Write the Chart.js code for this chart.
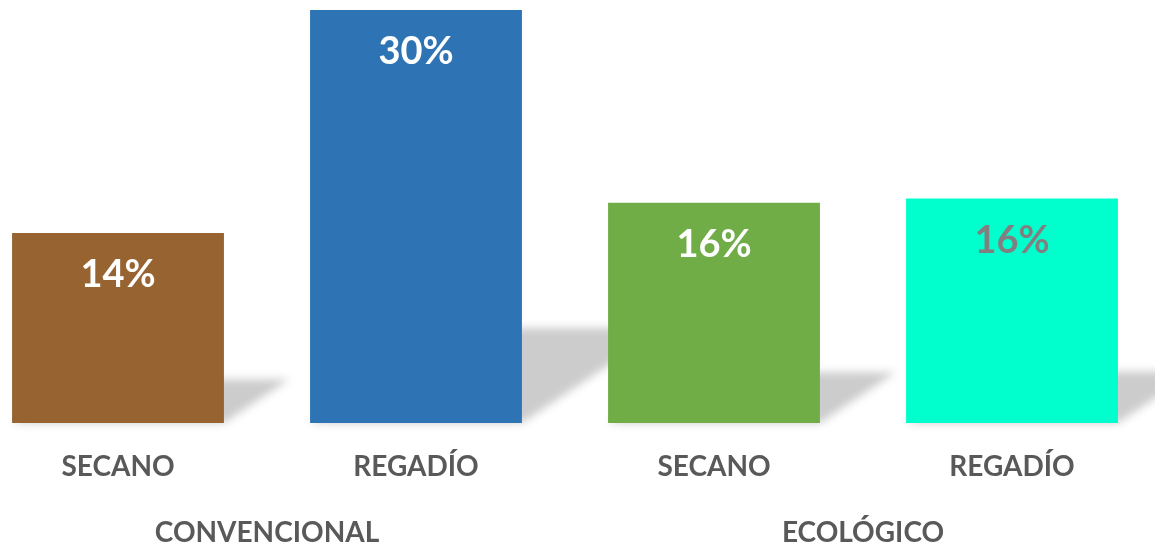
<!DOCTYPE html>
<html>
<head>
<meta charset="utf-8">
<script src="https://cdn.jsdelivr.net/npm/chart.js@4/dist/chart.umd.min.js"></script>
<style>
  html, body { margin: 0; padding: 0; background: #fff; overflow: hidden; }
  #wrap { position: absolute; left: -31px; top: 0; width: 1192px; height: 545px; }
</style>
</head>
<body>
<div id="wrap"><canvas id="chart"></canvas></div>
<script>
// datos
const tipos = ['SECANO', 'REGADÍO', 'SECANO', 'REGADÍO'];
const grupos = ['CONVENCIONAL', 'ECOLÓGICO'];
const valores = [13.8, 30, 16.0, 16.3];
const colores = ['#976431', '#2e74b5', '#70ad47', '#00ffcc'];
const coloresEtiqueta = ['#ffffff', '#ffffff', '#ffffff', '#808080'];

// sombra inclinada detrás de cada barra
const sombraPlugin = {
  id: 'sombra',
  beforeDatasetsDraw(chart) {
    const ctx = chart.ctx;
    const meta = chart.getDatasetMeta(0);
    ctx.save();
    ctx.filter = 'blur(4px)';
    ctx.fillStyle = 'rgba(0,0,0,0.2)';
    meta.data.forEach(bar => {
      const h = (bar.base - bar.y) * 0.23;
      const dx = h * 1.5;
      const left = bar.x - bar.width / 2;
      const right = bar.x + bar.width / 2;
      ctx.beginPath();
      ctx.moveTo(left, bar.base);
      ctx.lineTo(right, bar.base);
      ctx.lineTo(right + dx, bar.base - h);
      ctx.lineTo(left + dx, bar.base - h);
      ctx.closePath();
      ctx.fill();
    });
    ctx.restore();
  }
};

// etiquetas de porcentaje dentro de las barras
const etiquetasPlugin = {
  id: 'etiquetas',
  afterDatasetsDraw(chart) {
    const ctx = chart.ctx;
    const meta = chart.getDatasetMeta(0);
    ctx.save();
    ctx.font = 'bold 38px Lato';
    ctx.textAlign = 'center';
    ctx.textBaseline = 'middle';
    meta.data.forEach((bar, i) => {
      ctx.fillStyle = coloresEtiqueta[i];
      ctx.fillText(Math.round(valores[i]) + '%', bar.x, bar.y + 42);
    });
    ctx.restore();
  }
};

const fuenteEje = { family: 'Lato', weight: 'bold', size: 28 };

const ctx = document.getElementById('chart').getContext('2d');
new Chart(ctx, {
  type: 'bar',
  data: {
    labels: tipos,
    datasets: [{
      data: valores,
      backgroundColor: colores,
      borderWidth: 0,
      categoryPercentage: 1,
      barPercentage: 0.711
    }]
  },
  options: {
    responsive: true,
    maintainAspectRatio: false,
    animation: false,
    layout: { padding: { top: 10, left: 0, right: 0, bottom: 0 } },
    plugins: { legend: { display: false }, tooltip: { enabled: false } },
    scales: {
      y: { display: false, min: 0, max: 30 },
      x: {
        grid: { display: false, drawTicks: false },
        border: { display: false },
        ticks: { color: '#595959', font: fuenteEje, padding: 27 },
        afterFit(scale) { scale.height = 75; }
      },
      x2: {
        type: 'category',
        position: 'bottom',
        labels: grupos,
        offset: true,
        grid: { display: false, drawTicks: false },
        border: { display: false },
        ticks: { color: '#595959', font: fuenteEje, padding: 18 },
        afterFit(scale) { scale.height = 47; }
      }
    }
  },
  plugins: [sombraPlugin, etiquetasPlugin]
});
</script>
</body>
</html>
